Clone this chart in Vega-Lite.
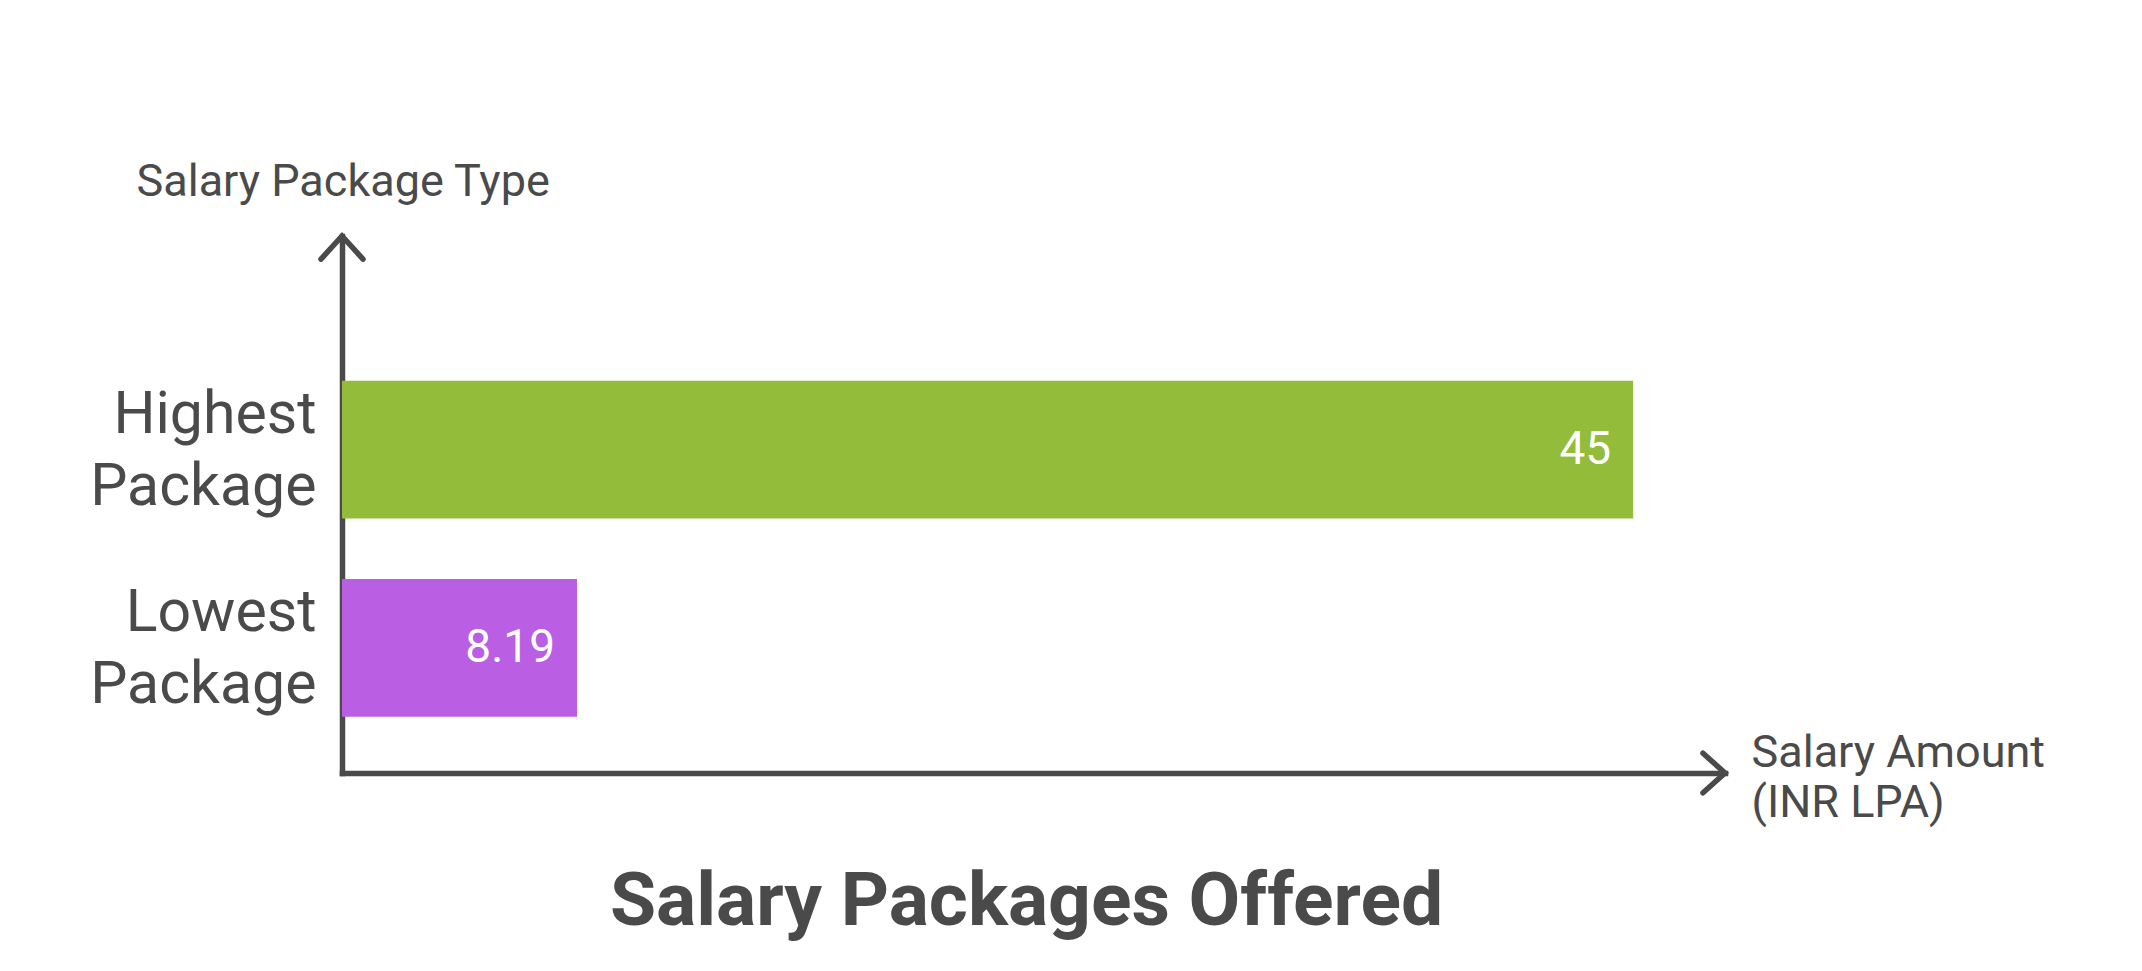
{
  "$schema": "https://vega.github.io/schema/vega-lite/v6.json",
  "width": 1383,
  "height": 537,
  "autosize": {"type": "none"},
  "padding": {"left": 342, "top": 236, "right": 417, "bottom": 198},
  "background": "white",
  "config": {"view": {"stroke": null}, "font": "Roboto"},
  "title": {
    "text": "Salary Packages Offered",
    "orient": "bottom",
    "frame": "group",
    "anchor": "middle",
    "baseline": "alphabetic",
    "offset": 100,
    "dx": -7,
    "fontSize": 75,
    "fontWeight": "bold",
    "font": "Roboto",
    "color": "#4a4a4a"
  },
  "layer": [
    {
      "data": {"values": [
        {"package": "Highest Package", "amount": 45},
        {"package": "Lowest Package", "amount": 8.19}
      ]},
      "mark": {"type": "bar"},
      "encoding": {
        "y": {
          "field": "package", "type": "nominal", "sort": null,
          "scale": {"paddingInner": 0.3045, "paddingOuter": 0.508, "align": 0.72},
          "axis": {
            "title": "Salary Package Type",
            "titleAngle": 0,
            "titleAlign": "left",
            "titleBaseline": "alphabetic",
            "titleX": -206,
            "titleY": -41,
            "titleFontSize": 45,
            "titleFontWeight": "normal",
            "titleColor": "#4a4a4a",
            "titleFont": "Roboto",
            "labelExpr": "split(datum.label, ' ')",
            "labelFontSize": 59,
            "labelLineHeight": 72,
            "labelOffset": -35,
            "labelColor": "#4a4a4a",
            "labelFont": "Roboto",
            "labelPadding": 26,
            "labelLimit": 0,
            "ticks": false,
            "grid": false,
            "domain": true,
            "domainColor": "#4a4a4a",
            "domainWidth": 5.5,
            "domainCap": "square"
          }
        },
        "x": {
          "field": "amount", "type": "quantitative",
          "scale": {"domain": [0, 48.2], "nice": false},
          "axis": {
            "title": ["Salary Amount", "(INR LPA)"],
            "titleAlign": "left",
            "titleBaseline": "alphabetic",
            "titleX": 1409,
            "titleY": -7,
            "titleLineHeight": 50,
            "titleFontSize": 45,
            "titleFontWeight": "normal",
            "titleColor": "#4a4a4a",
            "titleFont": "Roboto",
            "labels": false,
            "ticks": false,
            "grid": false,
            "domain": true,
            "domainColor": "#4a4a4a",
            "domainWidth": 5.5,
            "domainCap": "square"
          }
        },
        "color": {
          "field": "package", "type": "nominal",
          "scale": {"domain": ["Highest Package", "Lowest Package"], "range": ["#94BC3B", "#BA5EE3"]},
          "legend": null
        }
      }
    },
    {
      "data": {"values": [
        {"package": "Highest Package", "amount": 45},
        {"package": "Lowest Package", "amount": 8.19}
      ]},
      "mark": {"type": "text", "align": "right", "baseline": "middle", "dx": -22, "fontSize": 46, "color": "white", "font": "Roboto"},
      "encoding": {
        "y": {"field": "package", "type": "nominal", "sort": null},
        "x": {"field": "amount", "type": "quantitative"},
        "text": {"field": "amount", "type": "quantitative"}
      }
    },
    {
      "data": {"values": [{"arrow": "y"}]},
      "mark": {"type": "point", "shape": "M-1,1.1L0,0L1,1.1", "size": 1764, "filled": false, "stroke": "#4a4a4a", "strokeWidth": 5.5, "strokeCap": "round", "opacity": 1},
      "encoding": {
        "x": {"value": 0},
        "y": {"value": 0}
      }
    },
    {
      "data": {"values": [{"arrow": "x"}]},
      "mark": {"type": "point", "shape": "M-1,-0.9L0,0L-1,0.9", "size": 1936, "filled": false, "stroke": "#4a4a4a", "strokeWidth": 5.5, "strokeCap": "round", "opacity": 1},
      "encoding": {
        "x": {"value": "width"},
        "y": {"value": "height"}
      }
    }
  ]
}
